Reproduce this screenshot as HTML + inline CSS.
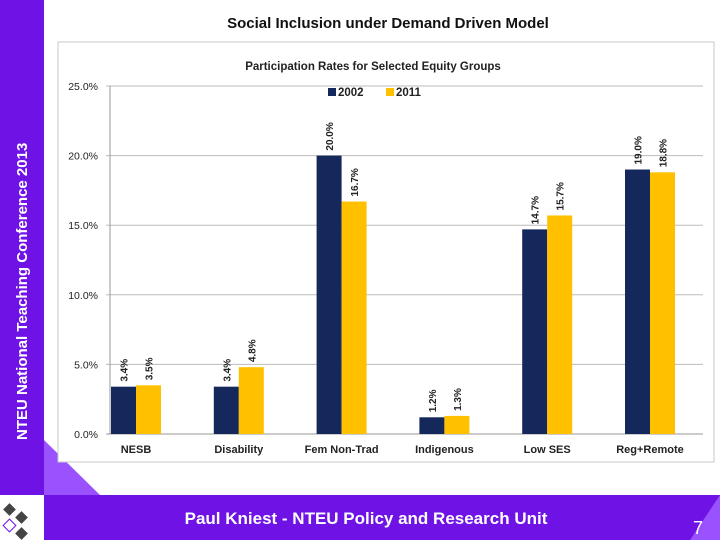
<!DOCTYPE html>
<html><head><meta charset="utf-8"><style>
body{margin:0;width:720px;height:540px;overflow:hidden;background:#fff;font-family:"Liberation Sans",sans-serif;position:relative}
</style></head><body>
<svg width="720" height="540" style="position:absolute;left:0;top:0">
<rect x="0" y="0" width="44" height="495" fill="#6e12e6"/>
<polygon points="44,440 100,495 44,495" fill="#9a52ff"/>
<rect x="44" y="495" width="676" height="45" fill="#6e12e6"/>
<polygon points="690,540 720,495 720,540" fill="#9a52ff"/>
<g>
<rect x="5" y="505" width="9" height="9" fill="#444" transform="rotate(45 9.5 509.5)"/>
<rect x="17" y="513" width="9" height="9" fill="#444" transform="rotate(45 21.5 517.5)"/>
<rect x="5" y="521" width="9" height="9" fill="#fff" stroke="#6e12e6" transform="rotate(45 9.5 525.5)"/>
<rect x="17" y="529" width="9" height="9" fill="#444" transform="rotate(45 21.5 533.5)"/>
</g>
<text x="22" y="440" transform="rotate(-90 22 440)" font-size="15" font-weight="bold" fill="#fff"><tspan x="22" dy="5">NTEU National Teaching Conference 2013</tspan></text>
<text x="388" y="28" text-anchor="middle" font-size="15" font-weight="bold" fill="#111">Social Inclusion under Demand  Driven Model</text>
<text x="366" y="524" text-anchor="middle" font-size="17" font-weight="bold" fill="#fff">Paul Kniest  - NTEU Policy and Research Unit</text>
<text x="693" y="534" font-size="18" fill="#fff">7</text>
<rect x="58" y="42" width="656" height="420" fill="#fff" stroke="#c8c8c8"/>
<text x="373" y="70" text-anchor="middle" font-size="11.5" font-weight="bold" fill="#222">Participation Rates for Selected Equity Groups</text>
<g id="chart"></g>
</svg>
<script>
const categories=["NESB","Disability","Fem Non-Trad","Indigenous","Low SES","Reg+Remote"];
const s2002=[3.4,3.4,20.0,1.2,14.7,19.0];
const s2011=[3.5,4.8,16.7,1.3,15.7,18.8];
const ticks=[0,5,10,15,20,25];
const NS="http://www.w3.org/2000/svg";
const g=document.getElementById('chart');
const x0=110,x1=703,y0=434,y1=86,ymax=25;
const y=v=>y0-(v/ymax)*(y0-y1);
const gw=102.8;
function mk(t,a){const e=document.createElementNS(NS,t);for(const k in a)e.setAttribute(k,a[k]);g.appendChild(e);return e;}
ticks.forEach(t=>{
 const l=mk('line',{x1:x0-4,x2:x1,y1:y(t),y2:y(t),stroke:t===0?'#999':'#bbb'});
 
 
 const tx=mk('text',{x:x0-12,y:y(t)+4,'text-anchor':'end','font-size':10.5,fill:'#222'});
 tx.textContent=t.toFixed(1)+'%';
 
 
});
const ax=mk('line',{x1:x0,x2:x0,y1:y1,y2:y0,stroke:'#999'});


const lg=mk('rect',{x:326,y:87,width:320,height:12,fill:'#fff'});


[['2002','#14285c',328],['2011','#ffc000',386]].forEach(([n,c,lx])=>{
 const r=mk('rect',{x:lx,y:88,width:8,height:8,fill:c});
 
 
 const t=mk('text',{x:lx+10,y:96,'font-size':11.5,'font-weight':'bold',fill:'#222'});
 t.textContent=n;
 
 
});
const bw=25;
categories.forEach((c,i)=>{
 const cx=x0+1+gw*i+bw;
 [[s2002[i],'#14285c',cx-bw],[s2011[i],'#ffc000',cx]].forEach(([v,col,bx],j)=>{
  const r=mk('rect',{x:bx,y:y(v),width:bw,height:y0-y(v),fill:col});
  
  
  const lx=bx+bw/2+4,ly=y(v)-5;
  const t=mk('text',{x:lx,y:ly,transform:`rotate(-90 ${lx} ${ly})`,'font-size':10,'font-weight':'bold',fill:'#222'});
  t.textContent=v.toFixed(1)+'%';
  
  
 });
 const t=mk('text',{x:cx,y:453,'text-anchor':'middle','font-size':11,'font-weight':'bold',fill:'#222'});
 t.textContent=c;
 
 
});
</script>
</body></html>
